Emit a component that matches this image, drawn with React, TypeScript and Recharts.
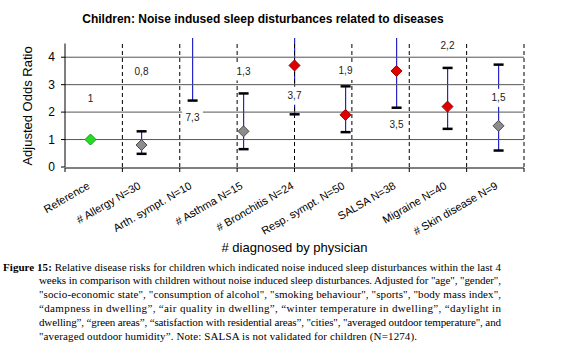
import React from 'react';
import { ComposedChart, Bar, Scatter, XAxis, YAxis, ReferenceLine } from 'recharts';

// values (odds ratio with 95% CI)
const categories = [
  'Reference',
  '# Allergy N=30',
  'Arth. sympt. N=10',
  '# Asthma N=15',
  '# Bronchitis N=24',
  'Resp. sympt. N=50',
  'SALSA N=38',
  'Migraine N=40',
  '# Skin disease N=9',
];
const oddsRatio = [1, 0.8, 7.3, 1.3, 3.7, 1.9, 3.5, 2.2, 1.5];
const ciLow = [null, 0.48, 2.42, 0.65, 1.92, 1.27, 2.16, 1.39, 0.6];
const ciHigh = [null, 1.3, 21.9, 2.68, 7.1, 2.94, 5.7, 3.61, 3.73];
const valueLabels = ['1', '0,8', '7,3', '1,3', '3,7', '1,9', '3,5', '2,2', '1,5'];
const labelAt = [2.48, 3.48, 1.8, 3.48, 2.6, 3.5, 1.56, 4.42, 2.52];

const yTicks = [0, 1, 2, 3, 4];
const yMinorTicks = [0.5, 1.5, 2.5, 3.5, 4.5];
const gridValues = [1, 2, 3, 4];
const boundaries = [0, 1, 2, 3, 4, 5, 6, 7, 8, 9];
const Y_MAX = 4.7;
const AXIS_TOP = 4.5;

const captionLines = [
  'Relative disease risks for children which indicated noise induced sleep disturbances within the last 4',
  'weeks in comparison with children without noise induced sleep disturbances. Adjusted for "age", "gender",',
  '"socio-economic state", "consumption of alcohol", "smoking behaviour", "sports", "body mass index",',
  '\u201cdampness in dwelling\u201d, \u201cair quality in dwelling\u201d, \u201cwinter temperature in dwelling\u201d, \u201cdaylight in',
  'dwelling\u201d, \u201cgreen areas\u201d, \u201csatisfaction with residential areas\u201d, "cities", "averaged outdoor temperature", and',
  '"averaged outdoor humidity\u201d. Note: SALSA is not validated for children (N=1274).',
];

const data = categories.map((name, i) => ({
  name,
  or: oddsRatio[i],
  ci: ciLow[i] == null ? null : [ciLow[i], ciHigh[i]],
  high: ciHigh[i],
  label: valueLabels[i],
  labelY: labelAt[i],
  kind: i === 0 ? 'ref' : (ciLow[i] as number) > 1 ? 'sig' : 'ns',
}));

const markerFill: Record<string, string> = { ref: '#22dd22', sig: '#e00000', ns: '#8c8c8c' };
const markerStroke: Record<string, string> = { ref: '#119911', sig: '#990000', ns: '#4a4a4a' };

const CiShape = (props: any) => {
  const { x, y, width, height, payload } = props;
  if (!payload || payload.ci == null) return null;
  const cx = x + width / 2;
  const top = Math.min(y, y + height);
  const bottom = Math.max(y, y + height);
  const clippedTop = payload.high > Y_MAX;
  return (
    <g>
      <line x1={cx} x2={cx} y1={top} y2={bottom} stroke="#2626c8" strokeWidth={1.2} />
      <line x1={cx - 5} x2={cx + 5} y1={bottom} y2={bottom} stroke="#000" strokeWidth={2.5} />
      {!clippedTop && <line x1={cx - 5} x2={cx + 5} y1={top} y2={top} stroke="#000" strokeWidth={2.5} />}
    </g>
  );
};

const Diamond = (props: any) => {
  const { cx, cy, payload } = props;
  if (payload.or > Y_MAX) return null;
  const r = 5.5;
  return (
    <polygon
      points={`${cx},${cy - r} ${cx + r},${cy} ${cx},${cy + r} ${cx - r},${cy}`}
      fill={markerFill[payload.kind]}
      stroke={markerStroke[payload.kind]}
      strokeWidth={1}
    />
  );
};

const ValueTag = (props: any) => {
  const { cx, cy, payload } = props;
  const w = payload.label.length * 5.6 + 4;
  return (
    <g>
      <rect x={cx - w / 2} y={cy - 9} width={w} height={18} fill="#fff" />
      <text x={cx} y={cy + 3.5} textAnchor="middle" fontSize={10} fill="#222">
        {payload.label}
      </text>
    </g>
  );
};

const CatTick = ({ x, y, payload }: any) => (
  <text
    x={x}
    y={y + 21}
    transform={`rotate(-30, ${x}, ${y + 21})`}
    textAnchor="end"
    fontSize={11}
    fill="#000"
  >
    {payload.value}
  </text>
);

const YTitle = ({ viewBox }: any) => {
  if (!viewBox) return null;
  const cx = viewBox.x + 31.5;
  const cy = viewBox.y + viewBox.height / 2 + 3.5;
  return (
    <text x={cx} y={cy} transform={`rotate(-90, ${cx}, ${cy})`} textAnchor="middle" fontSize={13} fill="#000">
      Adjusted Odds Ratio
    </text>
  );
};

// caption line geometry, justified like the printed figure
const capLeft = [3, 39, 39, 39, 39, 39];
const capWidth = [498, 462, 462, 462, 462, 378];

const App: React.FC = () => {
  return (
    <div
      style={{
        position: 'absolute',
        left: 0,
        top: 0,
        width: 575,
        height: 362,
        background: '#fff',
        fontFamily: '"Liberation Sans", Arial, sans-serif',
        overflow: 'hidden',
      }}
    >
      <div
        style={{
          position: 'absolute',
          top: 12,
          left: 0,
          width: 526,
          textAlign: 'center',
          fontSize: 12,
          fontWeight: 'bold',
          color: '#000',
        }}
      >
        Children: Noise indused sleep disturbances related to diseases
      </div>

      <div style={{ position: 'absolute', top: 0, left: 0 }}>
        <ComposedChart width={575} height={258} data={data} margin={{ top: 38, right: 51, bottom: 89, left: 0 }}>
          <XAxis
            xAxisId="grid"
            type="number"
            domain={[0, 9]}
            ticks={boundaries}
            height={1}
            axisLine={{ stroke: '#000' }}
            tickLine={{ stroke: '#000' }}
            tickSize={4}
            tickFormatter={() => ''}
          />
          <XAxis
            xAxisId="cat"
            dataKey="name"
            type="category"
            height={1}
            axisLine={false}
            tickLine={false}
            tickSize={0}
            tickMargin={0}
            interval={0}
            tick={<CatTick />}
            label={{ value: '# diagnosed by physician', position: 'bottom', offset: 75, fontSize: 13, fill: '#000' }}
          />
          <YAxis
            yAxisId="main"
            domain={[0, Y_MAX]}
            allowDataOverflow
            ticks={yTicks}
            width={65}
            axisLine={false}
            tickLine={{ stroke: '#000' }}
            tickSize={4}
            tickMargin={6}
            tick={{ fill: '#000', fontSize: 12 }}
            label={<YTitle />}
          />
          <YAxis
            yAxisId="minor"
            domain={[0, Y_MAX]}
            allowDataOverflow
            ticks={yMinorTicks}
            width={0}
            mirror
            axisLine={false}
            tickLine={{ stroke: '#000' }}
            tickSize={3}
            tickFormatter={() => ''}
          />

          <Bar xAxisId="cat" yAxisId="main" dataKey="ci" shape={<CiShape />} isAnimationActive={false} />
          <Scatter xAxisId="cat" yAxisId="main" dataKey="labelY" shape={<ValueTag />} isAnimationActive={false} />

          {gridValues.map((g) => (
            <ReferenceLine key={`h${g}`} xAxisId="grid" yAxisId="main" y={g} stroke="#555" />
          ))}
          <ReferenceLine
            xAxisId="grid"
            yAxisId="main"
            ifOverflow="visible"
            segment={[{ x: 0, y: 0 }, { x: 0, y: AXIS_TOP }]}
            stroke="#000"
          />
          {boundaries.slice(1).map((b) => (
            <ReferenceLine
              key={b}
              xAxisId="grid"
              yAxisId="main"
              ifOverflow="visible"
              segment={[{ x: b, y: 0 }, { x: b, y: AXIS_TOP }]}
              stroke="#000"
              strokeDasharray="4 3"
            />
          ))}

          <Scatter xAxisId="cat" yAxisId="main" dataKey="or" shape={<Diamond />} isAnimationActive={false} />
        </ComposedChart>
      </div>

      <svg
        width={575}
        height={104}
        style={{ position: 'absolute', top: 258, left: 0 }}
        fontFamily='"Liberation Serif", "Times New Roman", serif'
        fontSize={11}
      >
        {captionLines.map((line, i) => (
          <text
            key={i}
            x={capLeft[i]}
            y={12.5 + i * 13.85}
            textLength={capWidth[i]}
            lengthAdjust="spacing"
            fill="#000"
          >
            {i === 0 && <tspan fontWeight="bold">Figure 15: </tspan>}
            {line}
          </text>
        ))}
      </svg>
    </div>
  );
};

export default App;
